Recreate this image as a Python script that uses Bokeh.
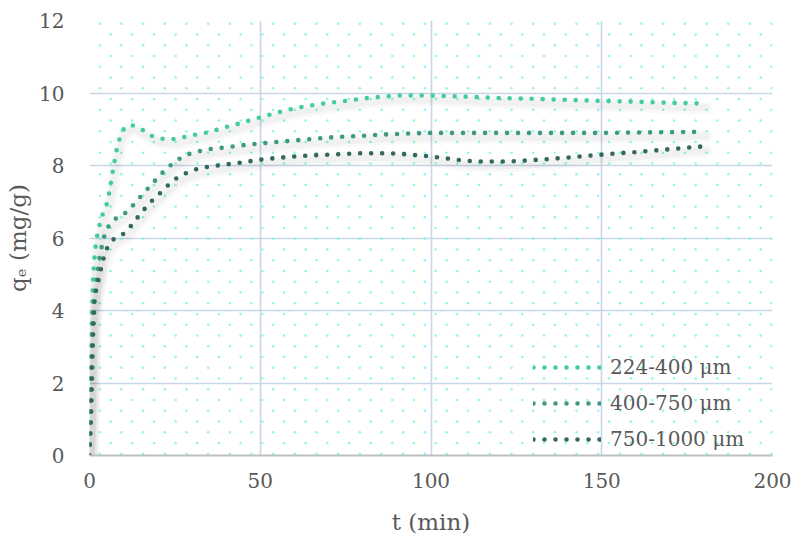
import numpy as np
from bokeh.plotting import figure
from bokeh.models import Range1d, FixedTicker, Legend, LegendItem
from bokeh.embed import file_html
from bokeh.resources import INLINE

# ---- data ----
x_ticks = [0, 50, 100, 150, 200]
y_ticks = [0, 2, 4, 6, 8, 10, 12]
series_names = ["224-400 \u03bcm", "400-750 \u03bcm", "750-1000 \u03bcm"]

t_a = [0, 0.5, 1, 1.5, 2, 3, 4, 5, 6, 7, 8, 9, 10, 12, 15, 18, 21, 24, 27, 30,
       35, 40, 45, 50, 55, 60, 65, 70, 75, 80, 85, 90, 95, 100, 110, 120, 130,
       140, 150, 160, 170, 180]
q_a = [0, 3.0, 4.8, 5.5, 5.95, 6.38, 6.7, 6.92, 7.35, 7.95, 8.45, 8.8, 9.0, 9.13,
       9.02, 8.82, 8.74, 8.72, 8.77, 8.83, 8.92, 9.06, 9.19, 9.33, 9.46, 9.58,
       9.66, 9.73, 9.78, 9.85, 9.89, 9.93, 9.93, 9.93, 9.9, 9.86, 9.84, 9.81,
       9.78, 9.76, 9.73, 9.71]

t_b = [0, 0.5, 1, 2, 3, 4, 5, 7, 10, 12, 15, 18, 21, 24, 27, 30, 35, 40, 45, 50,
       55, 60, 65, 70, 75, 80, 85, 90, 95, 100, 110, 120, 130, 140, 150, 160,
       170, 180]
q_b = [0, 2.5, 4.0, 4.8, 5.5, 5.95, 6.25, 6.5, 6.65, 6.82, 7.15, 7.46, 7.77,
       8.03, 8.23, 8.35, 8.45, 8.5, 8.56, 8.61, 8.65, 8.69, 8.73, 8.77, 8.8,
       8.82, 8.85, 8.87, 8.89, 8.9, 8.9, 8.9, 8.9, 8.9, 8.9, 8.91, 8.92, 8.93]

t_c = [0, 0.5, 1, 1.5, 2, 3, 4, 5, 7, 10, 12, 14, 16, 18, 20, 22, 25, 28, 31, 35,
       40, 45, 50, 55, 60, 65, 70, 75, 80, 85, 90, 95, 100, 105, 110, 115, 120,
       125, 130, 135, 140, 145, 150, 155, 160, 165, 170, 175, 180]
q_c = [0, 1.2, 3.2, 4.3, 4.6, 5.0, 5.4, 5.7, 5.96, 6.12, 6.32, 6.56, 6.79, 7.0,
       7.17, 7.37, 7.62, 7.78, 7.89, 7.97, 8.03, 8.09, 8.16, 8.21, 8.25, 8.28,
       8.3, 8.32, 8.34, 8.34, 8.33, 8.29, 8.25, 8.19, 8.13, 8.11, 8.11, 8.12,
       8.15, 8.18, 8.22, 8.26, 8.3, 8.34, 8.37, 8.41, 8.45, 8.49, 8.53]

colors = ["#43cc9f", "#3d9a80", "#33685a"]
FONT = "DejaVu Serif"
TXT = "#595959"

W, H = 793, 538
LEFT, TOP = 89, 20
FRAME_W, FRAME_H = 683, 435
p = figure(width=W, height=H, output_backend="svg", toolbar_location=None,
           x_range=Range1d(0, 200), y_range=Range1d(0, 12),
           min_border_left=LEFT, min_border_right=W - LEFT - FRAME_W,
           min_border_top=TOP, min_border_bottom=H - TOP - FRAME_H,
           background_fill_color="white", border_fill_color="white",
           outline_line_color=None)

# decorative dotted background pattern (style only)
px_x = 200 / float(FRAME_W)
px_y = 12 / float(FRAME_H)
bx, by = [], []
for r in range(41):
    yy = 12 - (3.3 + r * 10.75) * px_y
    off = 10.3 if r % 2 == 0 else 21.1
    xx = np.arange(off, FRAME_W, 21.67) * px_x
    bx.extend(xx.tolist())
    by.extend([yy] * len(xx))
p.scatter(bx, by, size=2.6, color="#80f8e2", line_color=None, alpha=0.9)

# axes & grid
p.xaxis.ticker = FixedTicker(ticks=x_ticks)
p.yaxis.ticker = FixedTicker(ticks=y_ticks)
for ax in (p.xaxis[0], p.yaxis[0]):
    ax.major_tick_line_color = None
    ax.minor_tick_line_color = None
    ax.major_label_text_font = FONT
    ax.major_label_text_font_size = "20px"
    ax.major_label_text_color = TXT
    ax.axis_label_text_font = FONT
    ax.axis_label_text_font_size = "23px"
    ax.axis_label_text_color = TXT
    ax.axis_label_text_font_style = "normal"
p.yaxis.axis_line_color = None
p.xaxis.axis_line_color = "#bfbfbf"
p.xaxis.axis_line_width = 2
p.xaxis.major_label_standoff = 11
p.yaxis.major_label_standoff = 19
p.xaxis.axis_label = "t (min)"
p.yaxis.axis_label = "q\u2091 (mg/g)"
p.xaxis.axis_label_standoff = 18
p.yaxis.axis_label_standoff = 5
p.grid.grid_line_color = "#c9d5e8"
p.grid.grid_line_width = 1.6
p.xgrid.ticker = FixedTicker(ticks=x_ticks)
p.ygrid.ticker = FixedTicker(ticks=y_ticks)

datasets = [(t_a, q_a), (t_b, q_b), (t_c, q_c)]

# soft shadows
for t, q in datasets:
    ts = [v + 0.6 for v in t]
    qs = [v - 0.12 for v in q]
    p.line(ts, qs, line_width=13, color="#000000", alpha=0.025, line_join="round", line_cap="round")
    p.line(ts, qs, line_width=7, color="#000000", alpha=0.03, line_join="round", line_cap="round")

items = []
for (t, q), c, name in zip(datasets, colors, series_names):
    r = p.line(t, q, line_width=4.6, color=c, line_dash="0 11", line_cap="round",
               line_join="round")
    items.append(LegendItem(label=name, renderers=[r]))

legend = Legend(items=items, location=(444, 1), background_fill_alpha=0,
                border_line_color=None, glyph_width=68, glyph_height=30,
                label_height=30, spacing=6, padding=0, margin=0,
                label_standoff=9, label_text_font=FONT,
                label_text_font_size="20px", label_text_color=TXT)
p.add_layout(legend, "center")

open("out.html", "w").write(file_html(p, INLINE))
